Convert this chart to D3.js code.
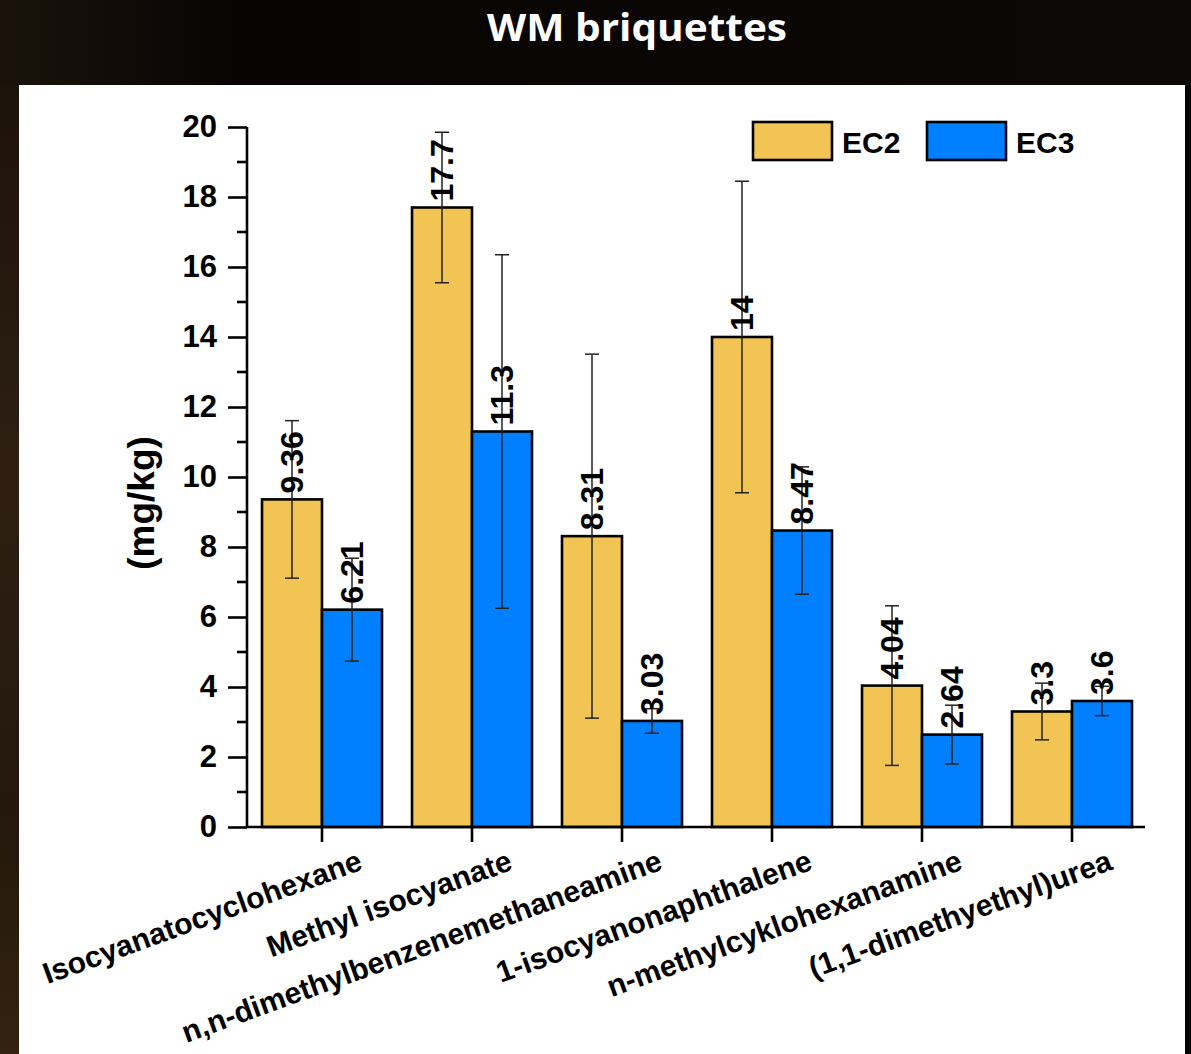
<!DOCTYPE html>
<html>
<head>
<meta charset="utf-8">
<script src="https://cdn.jsdelivr.net/npm/d3@7/dist/d3.min.js"></script>
<style>
  html, body { margin: 0; padding: 0; background: #080504; }
  svg { display: block; }
</style>
</head>
<body>
<svg id="chart" width="1191" height="1054"></svg>
<script>
// Compounds measured in WM briquettes (mg/kg)
const categories = [
  "Isocyanatocyclohexane",
  "Methyl isocyanate",
  "n,n-dimethylbenzenemethaneamine",
  "1-isocyanonaphthalene",
  "n-methylcyklohexanamine",
  "(1,1-dimethyethyl)urea"
];
const seriesNames = ["EC2", "EC3"];
const ec2Values = [9.36, 17.7, 8.31, 14, 4.04, 3.3];
const ec3Values = [6.21, 11.3, 3.03, 8.47, 2.64, 3.6];
const ec2Errors = [2.25, 2.15, 5.2, 4.45, 2.28, 0.81];
const ec3Errors = [1.47, 5.05, 0.35, 1.82, 0.84, 0.42];
const yTicks = [0, 2, 4, 6, 8, 10, 12, 14, 16, 18, 20];
const yMinorTicks = [1, 3, 5, 7, 9, 11, 13, 15, 17, 19];
const seriesColors = ["#F2C453", "#0080FF"];

const svg = d3.select("#chart");
const W = 1191, H = 1054;

// Dark backdrop with a warm brown edge on the left
const defs = svg.append("defs");
const edge = defs.append("linearGradient").attr("id", "edgeGrad")
  .attr("x1", 0).attr("x2", 0).attr("y1", 0).attr("y2", 1);
edge.append("stop").attr("offset", "0%").attr("stop-color", "#1c130b");
edge.append("stop").attr("offset", "40%").attr("stop-color", "#2e1f12");
edge.append("stop").attr("offset", "75%").attr("stop-color", "#24180d");
edge.append("stop").attr("offset", "100%").attr("stop-color", "#33230f");
const topGrad = defs.append("linearGradient").attr("id", "topGrad")
  .attr("x1", 0).attr("x2", 1).attr("y1", 0).attr("y2", 0);
topGrad.append("stop").attr("offset", "0%").attr("stop-color", "#1b130b");
topGrad.append("stop").attr("offset", "20%").attr("stop-color", "#070403");
topGrad.append("stop").attr("offset", "80%").attr("stop-color", "#0a0705");
topGrad.append("stop").attr("offset", "100%").attr("stop-color", "#0d0907");

svg.append("rect").attr("width", W).attr("height", H).attr("fill", "url(#topGrad)");
svg.append("rect").attr("x", 0).attr("y", 85).attr("width", 19).attr("height", H - 85)
  .attr("fill", "url(#edgeGrad)");
svg.append("rect").attr("x", 1185).attr("y", 85).attr("width", 6).attr("height", H - 85)
  .attr("fill", "#050303");

// Title
svg.append("text")
  .attr("x", 637).attr("y", 41)
  .attr("text-anchor", "middle")
  .attr("font-family", "'Open Sans', sans-serif")
  .attr("font-weight", "bold")
  .attr("font-size", 38)
  .attr("fill", "#ffffff")
  .attr("textLength", 300)
  .attr("lengthAdjust", "spacingAndGlyphs")
  .text("WM briquettes");

// White chart panel
svg.append("rect").attr("x", 19).attr("y", 85).attr("width", 1166).attr("height", H - 85)
  .attr("fill", "#ffffff");

const font = "'Liberation Sans', Arial, sans-serif";

// Scales
const x0 = d3.scaleBand().domain(categories).range([247, 1147])
  .paddingInner(0.2).paddingOuter(0.1);
const x1 = d3.scaleBand().domain(seriesNames).range([0, x0.bandwidth()]).padding(0);
const y = d3.scaleLinear().domain([0, 20]).range([827, 127]);

const rows = categories.map((c, i) => ({
  category: c,
  items: [
    { series: "EC2", value: ec2Values[i], err: ec2Errors[i], color: seriesColors[0] },
    { series: "EC3", value: ec3Values[i], err: ec3Errors[i], color: seriesColors[1] }
  ]
}));

const groups = svg.append("g").selectAll("g").data(rows).join("g")
  .attr("transform", d => `translate(${x0(d.category)},0)`);

// Bars
groups.selectAll("rect").data(d => d.items).join("rect")
  .attr("x", d => x1(d.series))
  .attr("y", d => y(d.value))
  .attr("width", x1.bandwidth())
  .attr("height", d => y(0) - y(d.value))
  .attr("fill", d => d.color)
  .attr("stroke", "#000")
  .attr("stroke-width", 2.6);

// Error bars
const cap = 7;
const eb = groups.selectAll("g.err").data(d => d.items).join("g").attr("class", "err")
  .attr("stroke", "#222").attr("stroke-width", 1.5);
eb.append("line")
  .attr("x1", d => x1(d.series) + x1.bandwidth() / 2)
  .attr("x2", d => x1(d.series) + x1.bandwidth() / 2)
  .attr("y1", d => y(d.value + d.err))
  .attr("y2", d => y(d.value - d.err));
eb.append("line")
  .attr("x1", d => x1(d.series) + x1.bandwidth() / 2 - cap)
  .attr("x2", d => x1(d.series) + x1.bandwidth() / 2 + cap)
  .attr("y1", d => y(d.value + d.err))
  .attr("y2", d => y(d.value + d.err));
eb.append("line")
  .attr("x1", d => x1(d.series) + x1.bandwidth() / 2 - cap)
  .attr("x2", d => x1(d.series) + x1.bandwidth() / 2 + cap)
  .attr("y1", d => y(d.value - d.err))
  .attr("y2", d => y(d.value - d.err));

// Value labels, vertical, above each bar
groups.selectAll("text.val").data(d => d.items).join("text").attr("class", "val")
  .attr("transform", d => `translate(${x1(d.series) + x1.bandwidth() / 2},${y(d.value) - 6}) rotate(-90)`)
  .attr("text-anchor", "start")
  .attr("dominant-baseline", "central")
  .attr("font-family", font)
  .attr("font-weight", "bold")
  .attr("font-size", 32)
  .attr("fill", "#000")
  .text(d => d.value);

// Y axis with major and minor ticks
const yAxis = svg.append("g").attr("transform", "translate(247,0)")
  .call(d3.axisLeft(y).tickValues(yTicks).tickSize(19).tickPadding(11).tickFormat(d3.format("d")));
yAxis.select(".domain").attr("stroke-width", 2.6).attr("d", "M0,127V827");
yAxis.selectAll(".tick line").attr("stroke-width", 2.6);
yAxis.selectAll(".tick text")
  .attr("font-family", font).attr("font-weight", "bold").attr("font-size", 31).attr("fill", "#000");
svg.append("g").selectAll("line").data(yMinorTicks).join("line")
  .attr("x1", 237).attr("x2", 247)
  .attr("y1", d => y(d)).attr("y2", d => y(d))
  .attr("stroke", "#000").attr("stroke-width", 2.6);

// X axis
const xAxis = svg.append("g").attr("transform", "translate(0,827)")
  .call(d3.axisBottom(x0).tickSize(15).tickSizeOuter(0).tickFormat(""));
xAxis.select(".domain").attr("stroke-width", 2.6).attr("d", "M247,0H1145");
xAxis.selectAll(".tick line").attr("stroke-width", 2.6);
xAxis.selectAll(".tick").append("text")
  .attr("transform", "translate(42,42) rotate(-20)")
  .attr("text-anchor", "end")
  .attr("font-family", font)
  .attr("font-weight", "bold")
  .attr("font-size", 30)
  .attr("fill", "#000")
  .text(d => d);

// Y axis title
svg.append("text")
  .attr("transform", "translate(154,503) rotate(-90)")
  .attr("text-anchor", "middle")
  .attr("font-family", font)
  .attr("font-weight", "bold")
  .attr("font-size", 37)
  .attr("fill", "#000")
  .text("(mg/kg)");

// Legend
const legend = svg.append("g").selectAll("g").data(seriesNames).join("g")
  .attr("transform", (d, i) => `translate(${753 + i * 174},122)`);
legend.append("rect")
  .attr("width", 79).attr("height", 38)
  .attr("fill", (d, i) => seriesColors[i])
  .attr("stroke", "#000").attr("stroke-width", 2.6);
legend.append("text")
  .attr("x", 89).attr("y", 31)
  .attr("font-family", font).attr("font-weight", "bold").attr("font-size", 30)
  .attr("fill", "#000")
  .text(d => d);
</script>
</body>
</html>
